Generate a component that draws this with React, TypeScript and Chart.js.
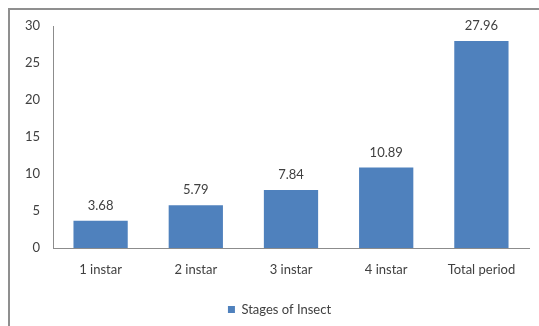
import React, { useEffect, useRef } from "react";
import { Chart, registerables } from "chart.js";

Chart.register(...registerables);

const categories = ["1 instar", "2 instar", "3 instar", "4 instar", "Total period"];
const values = [3.68, 5.79, 7.84, 10.89, 27.96];
const valueLabels = ["3.68", "5.79", "7.84", "10.89", "27.96"];
const seriesName = "Stages of Insect";

const FONT = "Lato, 'Open Sans', sans-serif";
const TEXT = "#404040";

const valueLabelPlugin = {
  id: "valueLabels",
  afterDatasetsDraw(chart: any) {
    const ctx = chart.ctx;
    const meta = chart.getDatasetMeta(0);
    ctx.save();
    ctx.font = `13px ${FONT}`;
    ctx.fillStyle = TEXT;
    ctx.textAlign = "center";
    ctx.textBaseline = "middle";
    meta.data.forEach((bar: any, i: number) => {
      ctx.fillText(valueLabels[i], bar.x, bar.y - 15);
    });
    ctx.restore();
  },
};

const legendShiftPlugin = {
  id: "legendShift",
  afterLayout(chart: any) {
    if (chart.legend) {
      chart.legend.left += 15;
      chart.legend.right += 15;
    }
  },
};

export default function App() {
  const ref = useRef<HTMLCanvasElement>(null);
  useEffect(() => {
    document.body.style.margin = "0";
    const chart = new Chart(ref.current!, {
      type: "bar",
      data: {
        labels: categories,
        datasets: [
          {
            label: seriesName,
            data: values,
            backgroundColor: "#4F81BD",
            borderWidth: 0,
            categoryPercentage: 1,
            barPercentage: 0.57,
          },
        ],
      },
      options: {
        responsive: false,
        animation: false,
        devicePixelRatio: 1,
        layout: { padding: { left: 0, right: 10, top: 26, bottom: 0 } },
        scales: {
          x: {
            grid: { display: false },
            border: { display: true, color: "#8c8c8c", width: 1 },
            ticks: { font: { family: FONT, size: 13 }, color: TEXT, padding: 6, maxRotation: 0 },
            afterFit: (s: any) => {
              s.height = 47;
            },
          },
          y: {
            min: 0,
            max: 30,
            grid: { display: false },
            border: { display: true, color: "#8c8c8c", width: 1 },
            ticks: { stepSize: 5, font: { family: FONT, size: 13 }, color: TEXT, padding: 5 },
            afterFit: (s: any) => {
              s.width = 53;
            },
          },
        },
        plugins: {
          tooltip: { enabled: false },
          legend: {
            position: "bottom",
            labels: {
              boxWidth: 7,
              boxHeight: 7,
              padding: 8,
              font: { family: FONT, size: 13 },
              color: TEXT,
            },
          },
        },
      },
      plugins: [valueLabelPlugin, legendShiftPlugin],
    });
    return () => chart.destroy();
  }, []);
  return (
    <div style={{ position: "relative", width: 539, height: 326, overflow: "hidden" }}>
      <div
        style={{
          position: "absolute",
          left: 8,
          top: 8,
          width: 600,
          height: 400,
          borderLeft: "2px solid #8f8f8f",
          borderTop: "2px solid #8f8f8f",
        }}
      />
      <canvas ref={ref} width={539} height={326} style={{ position: "absolute", left: 0, top: 0 }} />
    </div>
  );
}
